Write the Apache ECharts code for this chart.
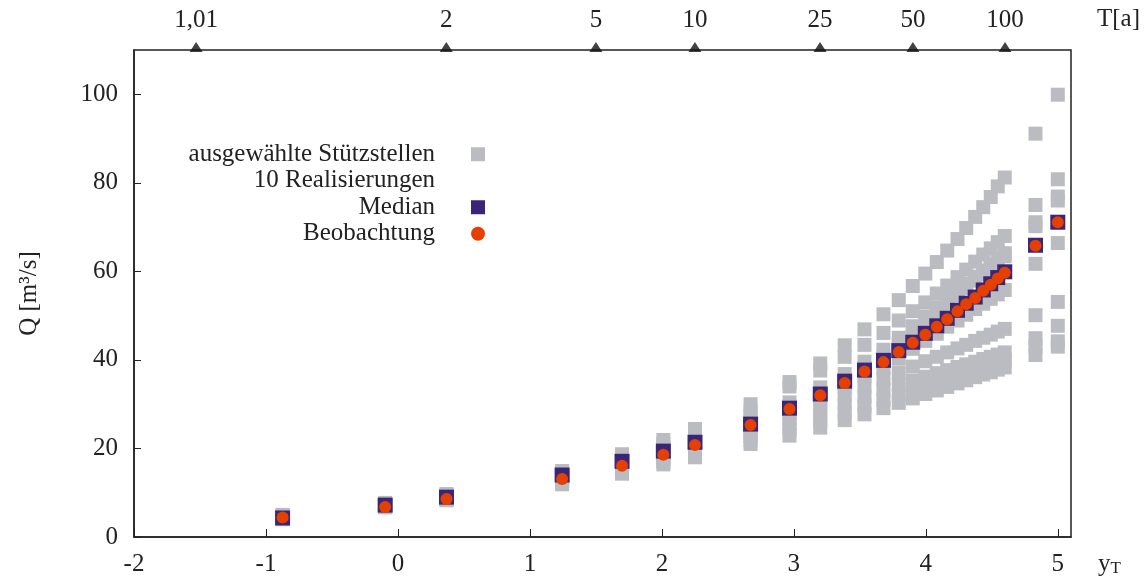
<!DOCTYPE html>
<html>
<head>
<meta charset="utf-8">
<script src="https://cdn.jsdelivr.net/npm/echarts@6/dist/echarts.min.js"></script>
<style>
html, body { margin: 0; padding: 0; background: #fff; }
#chart { width: 1145px; height: 579px; }
</style>
</head>
<body>
<div id="chart"></div>
<script>
// Gumbel reduced variate y_T of each plotted event
const yT = [-0.874, -0.097, 0.368, 1.244, 1.698, 2.011, 2.251, 2.672, 2.967, 3.200, 3.385, 3.535, 3.679,
  3.795, 3.901, 3.996, 4.083, 4.162, 4.240, 4.306, 4.374, 4.435, 4.492, 4.545, 4.598, 4.831, 5.000];

// observed discharge Q [m3/s]
const observed = [4.4, 6.8, 8.6, 13.1, 16.1, 18.6, 20.8, 25.3, 28.9, 32.0, 34.8, 37.4, 39.5,
  41.8, 43.9, 45.7, 47.5, 49.2, 51.0, 52.6, 54.0, 55.6, 57.0, 58.4, 59.7, 65.8, 71.1];

// median of the realisations
const median = [4.3, 7.2, 9.0, 14.0, 17.1, 19.4, 21.4, 25.5, 29.1, 32.3, 35.2, 37.7, 39.9,
  42.1, 44.0, 46.0, 47.7, 49.4, 51.2, 52.8, 54.2, 55.8, 57.2, 58.6, 59.9, 65.9, 71.1];

// ten realisations at the selected support points
const real1 = [5.0, 7.7, 9.7, 14.9, 18.7, 21.9, 24.4, 30.0, 35.0, 39.2, 43.3, 46.9, 50.3,
  53.5, 56.7, 59.5, 62.1, 64.7, 67.3, 69.8, 72.3, 74.5, 76.8, 79.2, 81.2, 91.1, 99.9];
const real2 = [4.9, 7.5, 9.5, 14.5, 18.2, 21.0, 23.4, 28.5, 34.0, 37.6, 40.7, 43.4, 46.1,
  48.9, 51.0, 53.0, 55.0, 56.8, 58.7, 60.4, 62.2, 63.8, 65.2, 66.6, 68.0, 75.0, 80.8];
const real3 = [4.7, 7.4, 9.3, 14.2, 17.6, 20.2, 22.4, 27.2, 30.4, 33.8, 36.8, 39.6, 42.3,
  45.0, 47.6, 49.8, 51.9, 53.8, 55.6, 57.2, 58.8, 60.2, 61.6, 62.8, 64.1, 71.1, 76.9];
const real4 = [4.6, 7.3, 9.1, 14.0, 17.2, 19.7, 21.8, 26.2, 29.5, 32.5, 35.5, 38.2, 40.7,
  43.6, 46.2, 48.5, 50.7, 52.6, 54.5, 56.2, 57.9, 59.4, 60.8, 62.1, 63.4, 70.2, 76.0];
const real5 = [4.5, 7.2, 9.0, 13.8, 17.0, 19.4, 21.4, 25.5, 29.1, 32.2, 35.2, 37.7, 40.0,
  42.2, 44.1, 45.9, 47.7, 49.4, 51.2, 52.8, 54.2, 55.8, 57.2, 58.6, 59.9, 65.9, 71.1];
const real6 = [4.4, 7.1, 8.9, 13.5, 16.6, 19.0, 20.9, 24.7, 28.0, 31.0, 33.8, 36.3, 38.2,
  40.4, 42.5, 44.3, 45.9, 47.5, 48.9, 50.2, 51.5, 52.7, 53.8, 54.8, 55.8, 61.7, 66.4];
const real7 = [4.3, 7.0, 8.8, 13.2, 16.0, 18.3, 20.2, 23.7, 26.8, 29.5, 32.0, 34.0, 35.8,
  37.2, 38.5, 39.7, 40.7, 41.7, 42.6, 43.4, 44.3, 45.0, 45.7, 46.4, 47.0, 50.1, 53.1];
const real8 = [4.2, 6.9, 8.6, 12.8, 15.5, 17.6, 19.4, 22.8, 25.5, 27.8, 30.0, 31.8, 33.3,
  34.4, 35.3, 36.2, 37.0, 37.7, 38.4, 39.0, 39.6, 40.2, 40.7, 41.2, 41.7, 44.9, 47.7];
const real9 = [4.1, 6.8, 8.4, 12.4, 14.9, 17.0, 18.7, 21.9, 24.2, 26.2, 28.2, 29.7, 31.0,
  32.1, 33.2, 34.1, 35.0, 35.7, 36.5, 37.1, 37.8, 38.4, 39.0, 39.5, 40.0, 43.1, 44.2];
const real10 = [4.0, 6.7, 8.3, 11.9, 14.3, 16.4, 18.0, 21.0, 22.9, 24.7, 26.4, 27.7, 29.1,
  30.3, 31.3, 32.3, 33.1, 33.9, 34.7, 35.4, 36.1, 36.7, 37.2, 37.8, 38.3, 41.1, 43.0];

// return periods shown on the upper axis
const returnPeriods = [1.01, 2, 5, 10, 25, 50, 100];
const returnPeriodLabels = ['1,01', '2', '5', '10', '25', '50', '100'];

// tick values of the main axes
const xTicks = [-2, -1, 0, 1, 2, 3, 4, 5];
const yTicks = [0, 20, 40, 60, 80, 100];

const FONT = 'Liberation Serif';
const INK = '#222';
const FS = 25;

// upper axis position of a return period (Gumbel reduced variate)
const reduced = T => -Math.log(-Math.log(1 - 1 / T));
const tPositions = returnPeriods.map(reduced);

const realisations = [real1, real2, real3, real4, real5, real6, real7, real8, real9, real10];
const grayPoints = [];
realisations.forEach(r => r.forEach((q, i) => grayPoints.push([yT[i], q])));

const chart = echarts.init(document.getElementById('chart'), null, { renderer: 'canvas' });

chart.setOption({
  animation: false,
  backgroundColor: '#fff',
  textStyle: { fontFamily: FONT },
  grid: {
    left: 134, right: 74, top: 50, bottom: 42, outerBoundsMode: 'none', containLabel: false,
    show: true, borderColor: INK, borderWidth: 1.5, backgroundColor: 'transparent'
  },
  legend: {
    orient: 'vertical', right: 660, top: 141, padding: 0, itemGap: 0,
    align: 'right', itemWidth: 14, itemHeight: 14, selectedMode: false,
    data: [
      { name: 'ausgewählte Stützstellen', icon: 'rect' },
      { name: '10 Realisierungen', icon: 'rect', itemStyle: { opacity: 0 } },
      { name: 'Median', icon: 'rect' },
      { name: 'Beobachtung', icon: 'circle' }
    ],
    formatter: n => '{t|' + n + '}',
    textStyle: {
      rich: {
        t: { width: 300, height: 26.5, align: 'right', verticalAlign: 'middle', fontFamily: FONT,
             fontSize: FS, color: INK, lineHeight: 26.5, padding: [0, 31, 0, 0] }
      }
    }
  },
  xAxis: [
    {
      type: 'value', min: -2, max: 5.1, position: 'bottom',
      name: 'y{s|T}', nameLocation: 'end', nameGap: 27,
      nameTextStyle: {
        fontFamily: FONT, fontSize: FS, color: INK, verticalAlign: 'top', padding: [14, 0, 0, 0],
        rich: { s: { fontFamily: FONT, fontSize: 17, color: INK, padding: [9, 0, 0, 0] } }
      },
      axisLine: { show: true, onZero: false, lineStyle: { color: INK, width: 1.5 } },
      axisTick: { show: true, inside: true, length: 8, customValues: xTicks, lineStyle: { color: INK } },
      axisLabel: { customValues: xTicks, margin: 15, fontFamily: FONT, fontSize: FS, color: INK },
      splitLine: { show: false }
    },
    {
      type: 'value', min: -2, max: 5.1, position: 'top',
      name: 'T[a]', nameLocation: 'end', nameGap: 26,
      nameTextStyle: { fontFamily: FONT, fontSize: FS, color: INK, verticalAlign: 'bottom', padding: [0, 0, 18, 0] },
      axisLine: { show: false, onZero: false },
      axisTick: { show: false },
      axisLabel: {
        customValues: tPositions, margin: 17, fontFamily: FONT, fontSize: FS, color: INK,
        formatter: v => {
          let best = 0;
          tPositions.forEach((p, i) => { if (Math.abs(p - v) < Math.abs(tPositions[best] - v)) best = i; });
          return returnPeriodLabels[best];
        }
      },
      splitLine: { show: false }
    }
  ],
  yAxis: {
    type: 'value', min: 0, max: 110, position: 'left',
    name: 'Q [m³/s]', nameLocation: 'middle', nameGap: 92, nameRotate: 90,
    nameTextStyle: { fontFamily: FONT, fontSize: FS, color: INK },
    axisLine: { show: true, onZero: false, lineStyle: { color: INK, width: 1.5 } },
    axisTick: { show: true, inside: true, length: 7, customValues: yTicks, lineStyle: { color: INK } },
    axisLabel: { customValues: yTicks, margin: 16, fontFamily: FONT, fontSize: FS, color: INK },
    splitLine: { show: false }
  },
  series: [
    {
      name: 'ausgewählte Stützstellen', type: 'scatter', symbol: 'rect', symbolSize: 14,
      itemStyle: { color: '#babcc2', opacity: 1 }, data: grayPoints, z: 2, silent: true
    },
    { name: '10 Realisierungen', type: 'scatter', data: [], itemStyle: { color: 'rgba(0,0,0,0)' } },
    {
      name: 'Median', type: 'scatter', symbol: 'rect', symbolSize: 15,
      itemStyle: { color: '#3a2678', opacity: 1 }, data: yT.map((x, i) => [x, median[i]]), z: 3, silent: true
    },
    {
      name: 'Beobachtung', type: 'scatter', symbol: 'circle', symbolSize: 12,
      itemStyle: { color: '#e64000', opacity: 1 }, data: yT.map((x, i) => [x, observed[i]]), z: 4, silent: true
    },
    {
      name: 'Jährlichkeit', type: 'scatter', xAxisIndex: 1, symbol: 'triangle',
      symbolSize: [13, 10], symbolOffset: [0, -3], clip: false, silent: true, z: 5,
      itemStyle: { color: '#111' },
      data: tPositions.map(p => [p, 110])
    }
  ]
});
</script>
</body>
</html>
